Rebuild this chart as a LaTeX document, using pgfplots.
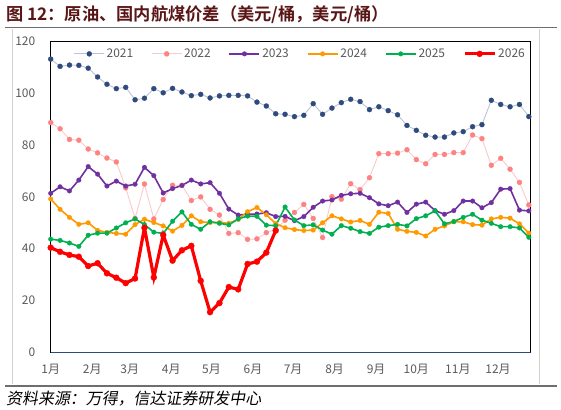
\documentclass[border=0pt]{standalone}
\usepackage{fontspec}
\setmainfont{Noto Sans CJK SC}[BoldFont={Noto Sans CJK SC Bold}]
\newfontfamily\srcfont{Noto Sans CJK SC}[FakeSlant=0.18]
\usepackage{pgfplots}
\pgfplotsset{compat=1.18}
\usepackage{pgfplotstable}

\definecolor{c21}{RGB}{47,74,124}
\definecolor{c21l}{RGB}{184,196,216}
\definecolor{c22}{RGB}{255,130,130}
\definecolor{c22l}{RGB}{248,202,202}
\definecolor{c23}{RGB}{112,48,160}
\definecolor{c24}{RGB}{255,153,0}
\definecolor{c25}{RGB}{0,176,80}
\definecolor{c26}{RGB}{255,0,0}
\definecolor{txtgray}{RGB}{89,89,89}
\definecolor{titlered}{RGB}{90,22,22}
\definecolor{rulegray}{RGB}{110,110,110}
\definecolor{framegray}{RGB}{210,210,210}

% weekly spread, week index w = 0..51
\pgfplotstableread{
w  y21   y22   y23   y24   y25
0  113.2 88.7  61.4  59.2  43.7
1  110.4 86.3  63.9  55.2  43.2
2  110.9 82.2  62.3  52.1  42.2
3  110.8 81.9  66.5  49.4  40.9
4  109.7 78.5  71.7  50.0  45.2
5  106.3 77.0  68.8  47.1  46.0
6  103.5 75.0  64.2  46.3  46.0
7  101.8 73.5  66.1  45.9  48.0
8  102.3 63.5  64.2  45.6  50.0
9  97.5  51.7  64.9  49.3  51.5
10 98.1  65.0  71.4  51.4  49.3
11 101.8 51.5  68.2  50.1  46.4
12 100.2 59.0  61.5  48.8  45.9
13 101.9 64.5  63.2  46.8  50.6
14 100.5 64.5  64.4  49.0  54.2
15 99.1  58.6  66.5  52.7  49.4
16 99.6  60.0  65.0  50.4  47.5
17 98.2  55.2  65.5  50.1  50.4
18 99.0  53.0  61.4  50.1  49.8
19 99.2  45.9  55.3  49.8  49.2
20 99.2  46.2  53.0  51.3  51.5
21 99.0  43.6  53.3  54.3  52.6
22 96.6  43.8  53.4  55.9  52.5
23 95.1  46.2  53.9  53.1  49.1
24 92.1  47.5  52.4  49.7  48.9
25 91.9  51.0  52.5  48.1  56.1
26 91.0  54.0  50.8  47.4  51.1
27 91.5  57.1  52.4  47.0  48.9
28 96.0  51.7  56.0  47.2  49.2
29 91.9  44.3  58.4  50.0  47.2
30 94.3  60.1  58.8  52.7  45.6
31 96.4  59.1  60.6  51.5  48.9
32 97.7  65.1  61.2  50.3  47.9
33 96.8  62.8  61.4  50.9  46.6
34 93.7  67.4  59.7  49.4  45.9
35 94.8  76.7  57.3  54.1  48.3
36 93.3  76.7  56.6  53.6  48.9
37 91.7  76.9  58.0  47.5  49.4
38 87.6  78.2  54.0  46.7  48.8
39 85.7  74.4  57.2  46.3  51.6
40 83.8  72.8  58.0  44.9  52.7
41 83.1  76.4  54.7  47.5  54.6
42 83.1  76.4  53.3  48.8  49.6
43 84.7  77.1  54.7  50.4  50.5
44 85.2  77.1  58.4  50.4  52.1
45 87.1  83.9  58.4  49.3  53.3
46 87.9  82.5  55.8  49.1  51.0
47 97.3  72.2  57.8  51.5  49.8
48 95.7  74.9  63.0  52.1  48.5
49 94.8  70.7  63.2  51.8  48.5
50 95.7  65.6  54.9  49.6  48.0
51 91.0  56.9  54.6  46.0  44.4
}\spreadA

\pgfplotstableread{
w  y26
0  40.4
1  38.8
2  37.6
3  36.9
4  33.3
5  34.4
6  30.5
7  28.8
8  26.7
9  28.5
10 48.1
11 28.9
12 45.3
13 35.4
14 39.4
15 41.1
16 27.6
17 15.5
18 19.0
19 25.2
20 24.3
21 34.1
22 35.0
23 38.5
24 47.0
}\spreadB

\begin{document}
\begin{tikzpicture}
\path[use as bounding box] (0bp,0bp) rectangle (561bp,-410bp);

\node[anchor=base west, inner sep=0, text=titlered,
      font=\bfseries\fontsize{17.3}{20}\selectfont] at (6bp,-20.5bp)
  {图 12：原油、国内航煤价差（美元/桶，美元/桶）};
\draw[rulegray, line width=1.6bp] (5bp,-27.5bp) -- (557bp,-27.5bp);

\draw[framegray, line width=0.8bp] (12bp,-29bp) -- (12bp,-384bp);
\draw[framegray, line width=0.8bp] (539bp,-29bp) -- (539bp,-384bp);

\begin{axis}[
  at={(50.7bp,-352.3bp)}, anchor=south west,
  scale only axis, width=480bp, height=310.8bp,
  xmin=0, xmax=51.2, ymin=0, ymax=120,
  ytick={0,20,...,120},
  xtick={0,4.4286,8.4286,12.857,17.143,21.571,25.857,30.286,34.714,39,43.429,47.714},
  xticklabels={1月,2月,3月,4月,5月,6月,7月,8月,9月,10月,11月,12月},
  major tick length=0,
  tick label style={font=\fontsize{12}{14}\selectfont, text=txtgray},
  /pgf/number format/assume math mode=true,
  yticklabel style={xshift=-12bp},
  xticklabel style={yshift=-8bp},
  axis line style={black, line width=1bp},
  legend columns=6,
  legend style={at={(0.52,0.99)}, anchor=north, draw=none, fill=none,
    font=\fontsize{12}{14}\selectfont, text=txtgray,
    /tikz/every even column/.append style={column sep=16bp}},
  legend image code/.code={\draw[mark repeat=2,mark phase=2]
    plot coordinates {(0bp,0bp) (15bp,0bp) (30bp,0bp)};},
]
\addplot[c21l, line width=0.9bp, mark=*, mark size=2.5bp,
  mark options={draw=c21, fill=c21, line width=0.3bp}] table[x=w,y=y21]{\spreadA};
\addlegendentry{2021}
\addplot[c22l, line width=0.9bp, mark=*, mark size=2.5bp,
  mark options={draw=c22, fill=c22, line width=0.3bp}] table[x=w,y=y22]{\spreadA};
\addlegendentry{2022}
\addplot[c23, line width=1.6bp, mark=*, mark size=2.3bp,
  mark options={draw=c23, fill=c23, line width=0.3bp}] table[x=w,y=y23]{\spreadA};
\addlegendentry{2023}
\addplot[c24, line width=1.6bp, mark=*, mark size=2.3bp,
  mark options={draw=c24, fill=c24, line width=0.3bp}] table[x=w,y=y24]{\spreadA};
\addlegendentry{2024}
\addplot[c25, line width=1.6bp, mark=*, mark size=2.3bp,
  mark options={draw=c25, fill=c25, line width=0.3bp}] table[x=w,y=y25]{\spreadA};
\addlegendentry{2025}
\addplot[c26, line width=3.2bp, mark=*, mark size=3bp,
  mark options={draw=c26, fill=c26, line width=0.3bp}] table[x=w,y=y26]{\spreadB};
\addlegendentry{2026}
\draw[c21, line width=1.2bp] (rel axis cs:0,0) -- (rel axis cs:1,0);
\end{axis}

\node[anchor=base west, inner sep=0, font=\srcfont\fontsize{16}{18}\selectfont]
  at (6bp,-404bp) {资料来源：万得，信达证券研发中心};
\draw[rulegray, line width=1.6bp] (5bp,-386bp) -- (557bp,-386bp);
\end{tikzpicture}
\end{document}
